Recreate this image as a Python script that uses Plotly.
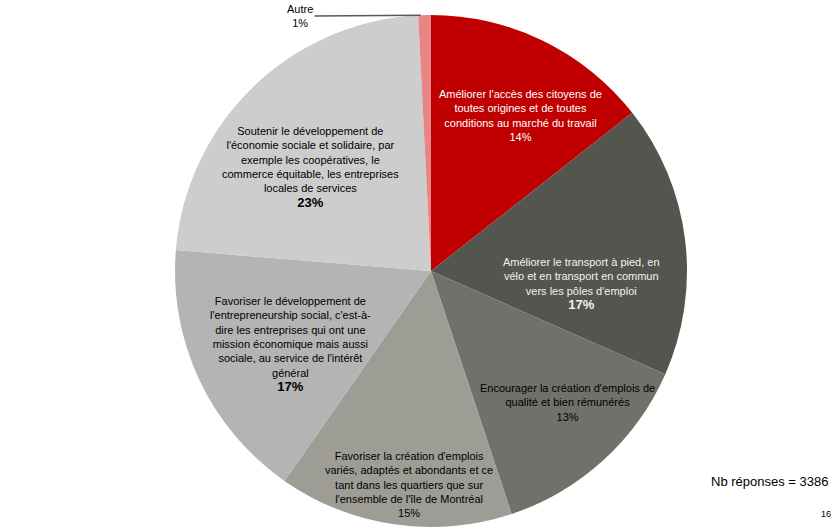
import math
import plotly.graph_objects as go

# ---- data ----
categories = [
    "Améliorer l'accès des citoyens de<br>toutes origines et de toutes<br>conditions au marché du travail",
    "Améliorer le transport à pied, en<br>vélo et en transport en commun<br>vers les pôles d'emploi",
    "Encourager la création d'emplois de<br>qualité et bien rémunérés",
    "Favoriser la création d'emplois<br>variés, adaptés et abondants et ce<br>tant dans les quartiers que sur<br>l'ensemble de l'île de Montréal",
    "Favoriser le développement de<br>l'entrepreneurship social, c'est-à-<br>dire les entreprises qui ont une<br>mission économique mais aussi<br>sociale, au service de l'intérêt<br>général",
    "Soutenir le développement de<br>l'économie sociale et solidaire, par<br>exemple les coopératives, le<br>commerce équitable, les entreprises<br>locales de services",
    "Autre",
]
values = [14.4, 17.2, 13.3, 14.8, 16.6, 22.9, 0.8]
n_responses = 3386
page_number = "16"

# ---- style ----
colors = ["#C00000", "#55554F", "#71716B", "#9D9D96", "#B4B4B4", "#CDCDCD", "#E88585"]
text_colors = ["white", "#F2F2F2", "black", "black", "black", "black", "black"]
bold_pct = [False, True, False, False, True, True, False]
# label placement: fraction of radius, angular shift (deg) from slice mid-angle
label_r = [0.70, 0.59, 0.74, 0.84, 0.62, 0.62]
label_shift = [4.0, 12.0, -3.6, -2.4, -2.3, -5.4]
FONT = "Liberation Sans, Arial, sans-serif"

W, H = 833, 527
MT = 15
R = (H - MT) / 2
CX = 431
CY = MT + R


def to_paper(px, py):
    return px / W, 1 - (py - MT) / (H - MT)


fig = go.Figure(
    go.Pie(
        labels=[c.replace("<br>", " ") for c in categories],
        values=values,
        sort=False,
        direction="clockwise",
        rotation=0,
        marker=dict(colors=colors, line=dict(width=0)),
        textinfo="none",
        hoverinfo="label+percent",
        showlegend=False,
        domain=dict(x=[(CX - R) / W, (CX + R) / W], y=[0, 1]),
    )
)

total = sum(values)
cum = 0
annotations = []
for i, (cat, v) in enumerate(zip(categories, values)):
    start = cum / total * 360
    mid = (cum + v / 2) / total * 360
    cum += v
    pct = f"{round(v / total * 100)}%"
    if i < len(label_r):
        ang = math.radians(mid + label_shift[i])
        r = label_r[i] * R
        px = CX + r * math.sin(ang)
        py = CY - r * math.cos(ang)
        x, y = to_paper(px, py)
        if bold_pct[i]:
            pct_txt = f"<span style='font-size:13px'><b>{pct}</b></span>"
        else:
            pct_txt = pct
        annotations.append(dict(
            x=x, y=y, xref="paper", yref="paper",
            text=f"{cat}<br>{pct_txt}",
            showarrow=False, align="center",
            xanchor="center", yanchor="middle",
            font=dict(family=FONT, size=11, color=text_colors[i]),
        ))
    else:
        # outside label with leader line (Autre)
        ang = math.radians(start + (mid - start) * 0.4)
        px = CX + R * math.sin(ang)
        py = CY - R * math.cos(ang)
        x, y = to_paper(px, py)
        annotations.append(dict(
            x=x, y=y, xref="paper", yref="paper",
            text=f"{cat}<br>{pct}",
            showarrow=True, arrowhead=0, arrowwidth=1.5, arrowcolor="#595959",
            ax=-(px - 300), ay=1,
            align="center",
            font=dict(family=FONT, size=11, color="black"),
        ))

annotations.append(dict(
    x=830 / W, y=to_paper(0, 481)[1], xref="paper", yref="paper",
    text=f"Nb réponses = {n_responses}", showarrow=False,
    xanchor="right", yanchor="middle",
    font=dict(family=FONT, size=13, color="black"),
))
annotations.append(dict(
    x=1.0, y=to_paper(0, 514)[1], xref="paper", yref="paper",
    text=page_number, showarrow=False,
    xanchor="right", yanchor="middle",
    font=dict(family=FONT, size=9, color="black"),
))

fig.update_layout(
    width=W, height=H,
    margin=dict(l=0, r=0, t=MT, b=0),
    paper_bgcolor="white", plot_bgcolor="white",
    font=dict(family=FONT),
    annotations=annotations,
)

fig.write_html(
    "out.html",
    config={"displayModeBar": False},
    post_script="document.body.style.margin='0';document.body.style.overflow='hidden';",
)
